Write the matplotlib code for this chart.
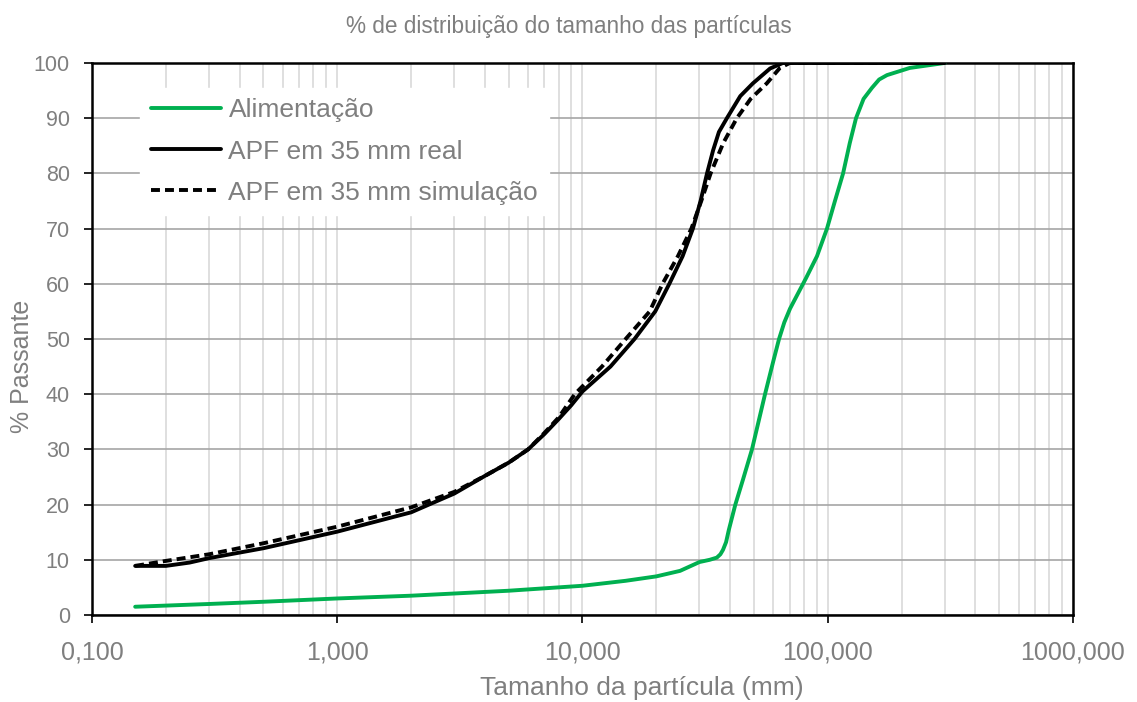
import matplotlib.pyplot as plt
from matplotlib.ticker import FixedLocator, LogLocator, FuncFormatter

plt.rcParams['font.family'] = ['Liberation Sans', 'DejaVu Sans']

# Feed (Alimentação) passing curve
feed_size = [0.15, 0.3, 0.5, 1, 2, 5, 10, 15, 20, 25, 30, 33, 35.3, 36.5, 37.4,
             38.5, 39.5, 42, 45.1, 49.1, 55.5, 60, 63.3, 66.5, 70.2, 81.5, 90.4,
             99.3, 107, 115.5, 123, 130.4, 140, 151.5, 162, 174.4, 216, 300]
feed_pass = [1.5, 2.0, 2.4, 3.0, 3.5, 4.4, 5.3, 6.2, 7.0, 8.0, 9.6, 10.0, 10.4,
             11.0, 11.8, 13.2, 15.4, 20, 24.5, 30, 40, 46, 50, 53, 55.5, 61, 65,
             70, 75, 80, 85.5, 90, 93.5, 95.5, 97, 97.8, 99.1, 100]

# Product, 35 mm APF - measured
real_size = [0.15, 0.2, 0.25, 0.3, 0.5, 1, 2, 2.6, 3, 4, 5, 6, 7, 8, 9, 10, 13,
             16.3, 19.8, 22.6, 25.6, 28.2, 30.3, 32.2, 34.1, 36, 38.8, 44, 49.5,
             58.2, 65.6, 80, 300]
real_pass = [8.9, 8.9, 9.5, 10.3, 12.1, 15.1, 18.6, 20.8, 22.0, 25.2, 27.6, 30,
             32.8, 35.5, 38, 40.5, 45, 50, 55, 60, 65, 70, 75, 80, 84.2, 87.5, 90,
             94, 96.3, 99, 100, 100, 100]

# Product, 35 mm APF - simulated
sim_size = [0.15, 0.2, 0.3, 0.5, 1, 2, 3, 4, 5, 6, 7, 8, 9.3, 12, 15, 18.8,
            21.2, 24.5, 27.8, 30.5, 33.3, 37.5, 42.6, 48.5, 56.4, 63.8, 70, 300]
sim_pass = [8.9, 9.8, 11.0, 13.0, 16.0, 19.5, 22.3, 25.2, 27.6, 30, 33, 35.8,
            40, 45, 50, 55, 60, 65, 70, 75, 80, 85.5, 90, 93.5, 96.3, 99.1, 100,
            100]

text_gray = '#7f7f7f'

fig = plt.figure(figsize=(11.37, 7.02), dpi=100)
ax = fig.add_axes([0.0809, 0.1239, 0.8628, 0.7864])

ax.plot(feed_size, feed_pass, color='#00b050', lw=2.8, label='Alimentação',
        solid_joinstyle='round', solid_capstyle='round', zorder=3)
ax.plot(real_size, real_pass, color='black', lw=2.8, label='APF em 35 mm real',
        solid_joinstyle='round', solid_capstyle='round', zorder=4)
ax.plot(sim_size, sim_pass, color='black', lw=2.8, ls=(0, (2.3, 1.3)),
        label='APF em 35 mm simulação', zorder=4)

ax.set_xscale('log')
ax.set_xlim(0.1, 1000)
ax.set_ylim(0, 100)
ax.set_yticks(range(0, 101, 10))
ax.xaxis.set_major_locator(FixedLocator([0.1, 1, 10, 100, 1000]))
ax.xaxis.set_minor_locator(LogLocator(base=10, subs=range(2, 10)))
ax.xaxis.set_major_formatter(FuncFormatter(lambda v, p: f'{v:.3f}'.replace('.', ',')))

ax.grid(True, axis='x', which='both', color='#d9d9d9', lw=1.2, zorder=0)
ax.grid(True, axis='y', which='major', color='#a6a6a6', lw=1.2, zorder=0)
ax.set_axisbelow(True)

for s in ax.spines.values():
    s.set_linewidth(1.8)
    s.set_color('black')

ax.tick_params(axis='both', which='major', direction='out', length=6, width=1.2,
               colors='black', labelcolor=text_gray)
ax.tick_params(axis='y', labelsize=15.5, pad=10)
ax.tick_params(axis='x', labelsize=18, pad=12)
ax.tick_params(axis='x', which='minor', length=0)

# title sits centred on the whole figure
fig.text(0.5, 1 - 26 / 702, '% de distribuição do tamanho das partículas',
         color=text_gray, fontsize=16.3, ha='center', va='center')
ax.set_xlabel('Tamanho da partícula (mm)', color=text_gray, fontsize=19)
ax.xaxis.set_label_coords(0.5607, -73 / 552)
ax.set_ylabel('% Passante', color=text_gray, fontsize=18)
ax.yaxis.set_label_coords(-70 / 981, 0.451)
ax.xaxis.label.set_va('center')
ax.yaxis.label.set_va('center')

leg = ax.legend(loc='upper left', bbox_to_anchor=(0.049, 0.955), fontsize=19,
                frameon=True, fancybox=False, handlelength=2.65, handletextpad=0.3,
                labelspacing=0.65, borderpad=0.4, borderaxespad=0,
                labelcolor=text_gray)
leg.get_frame().set_facecolor('white')
leg.get_frame().set_edgecolor('white')
leg.get_frame().set_alpha(1)

fig.savefig('out.png', dpi=100)
